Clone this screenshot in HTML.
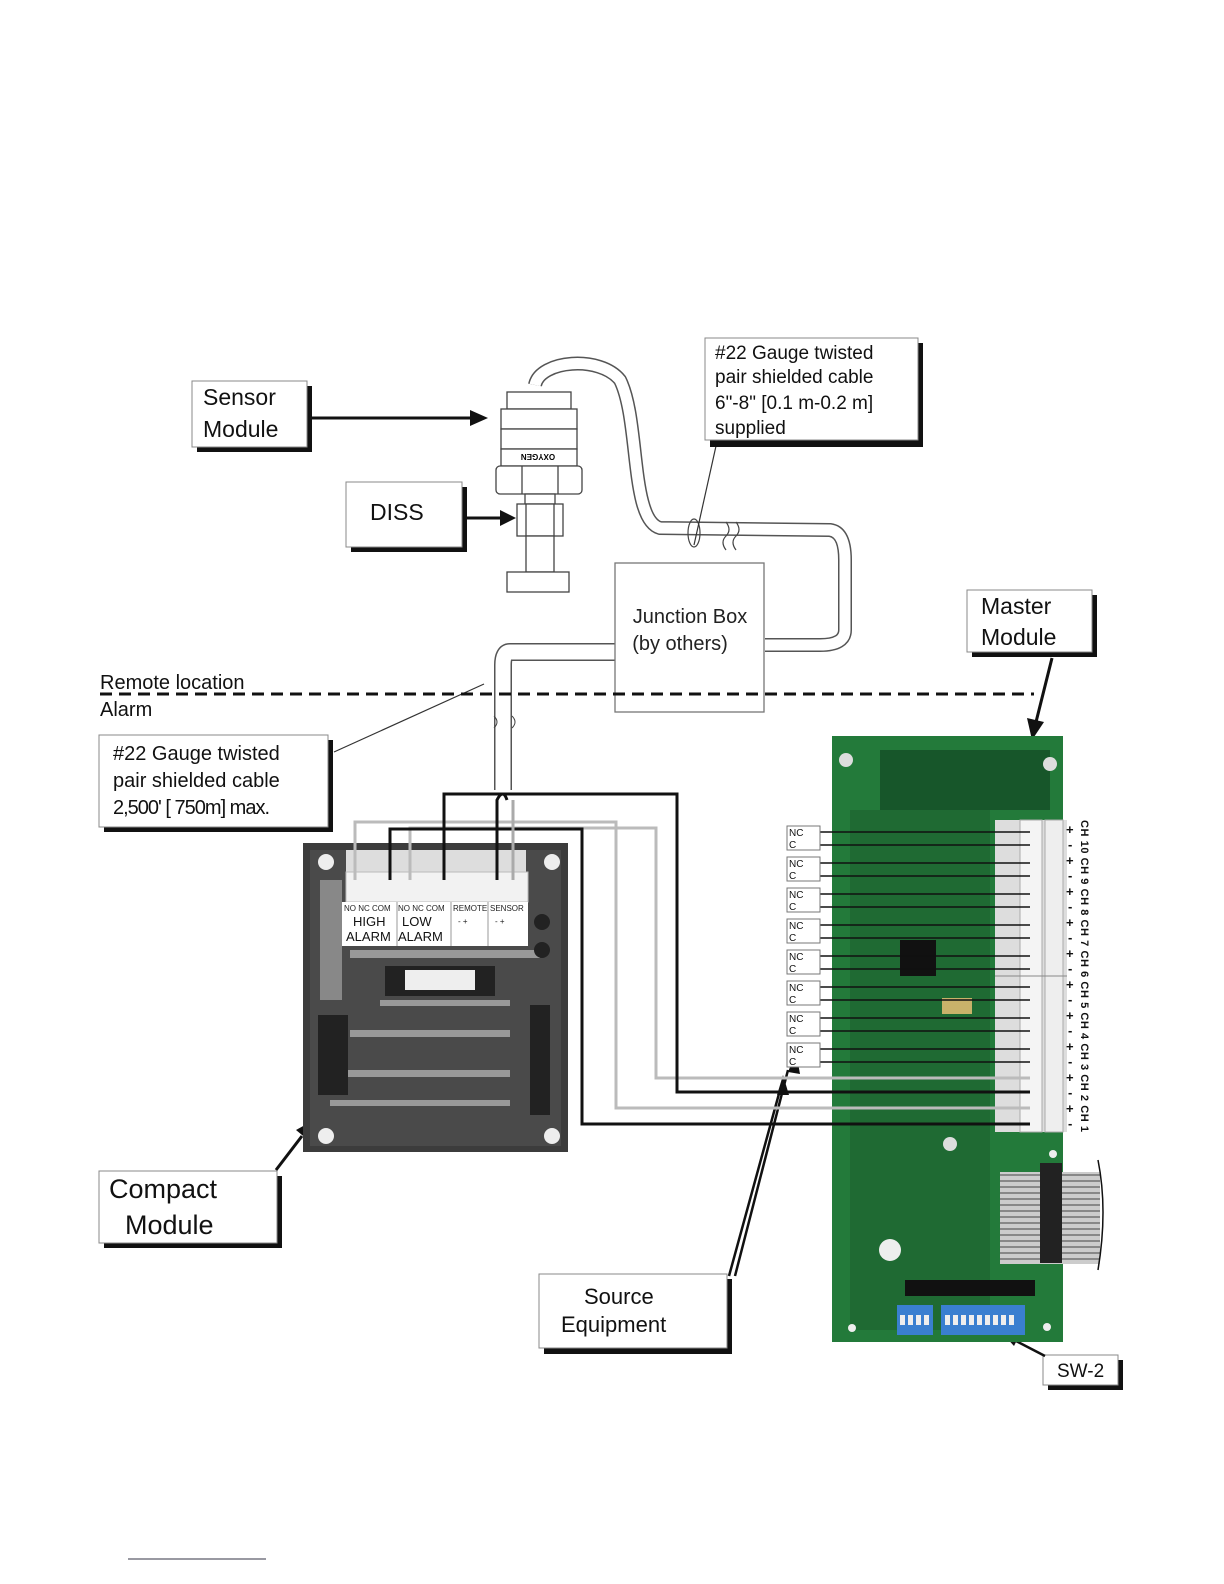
<!DOCTYPE html>
<html><head><meta charset="utf-8"><style>
body{margin:0;background:#fff}
svg{display:block}
text{font-family:"Liberation Sans","DejaVu Sans",sans-serif}
</style></head><body>
<svg width="1224" height="1584" viewBox="0 0 1224 1584" xmlns="http://www.w3.org/2000/svg">
<defs>
<pattern id="rib" width="6" height="6" patternUnits="userSpaceOnUse"><rect width="6" height="6" fill="#ccc"/><rect y="4" width="6" height="2" fill="#888"/></pattern>
</defs>
<rect width="1224" height="1584" fill="#fff"/>

<path d="M535,385 C540,360 600,355 620,380 C640,420 630,520 660,528 L830,530 Q845,532 845,560 L845,630 Q845,645 820,645 L765,645" fill="none" stroke="#555" stroke-width="14"/>
<path d="M535,385 C540,360 600,355 620,380 C640,420 630,520 660,528 L830,530 Q845,532 845,560 L845,630 Q845,645 820,645 L765,645" fill="none" stroke="#fff" stroke-width="11"/>
<path d="M726,522 q6,8 0,14 q-6,6 0,14 M736,522 q6,8 0,14 q-6,6 0,14" stroke="#444" fill="none" stroke-width="1.2"/>
<ellipse cx="694" cy="533" rx="6" ry="14" fill="none" stroke="#444" stroke-width="1.2"/>
<line x1="716" y1="446" x2="694" y2="545" stroke="#333" stroke-width="1.2"/>

<path d="M615,652 L510,652 Q503,652 503,665 L503,790" fill="none" stroke="#555" stroke-width="18"/>
<path d="M615,652 L510,652 Q503,652 503,665 L503,790" fill="none" stroke="#fff" stroke-width="15"/>
<path d="M494,716 q6,6 0,12 M512,716 q6,6 0,12" stroke="#444" fill="none"/>
<line x1="484" y1="684" x2="334" y2="752" stroke="#333" stroke-width="1.2"/>

<g stroke="#444" stroke-width="1.3" fill="#fff">
<rect x="507" y="392" width="64" height="17"/>
<rect x="501" y="409" width="76" height="20"/>
<rect x="501" y="429" width="76" height="20"/>
<rect x="501" y="449" width="76" height="17"/>
<rect x="496" y="466" width="86" height="28" rx="4"/>
<line x1="522" y1="466" x2="522" y2="494"/><line x1="558" y1="466" x2="558" y2="494"/>
<rect x="525" y="494" width="30" height="10"/>
<rect x="517" y="504" width="46" height="32"/>
<line x1="526" y1="504" x2="526" y2="536"/><line x1="554" y1="504" x2="554" y2="536"/>
<rect x="526" y="536" width="28" height="36"/>
<rect x="507" y="572" width="62" height="20"/>
</g>
<text x="538" y="460" font-size="8" font-weight="bold" text-anchor="middle" transform="rotate(180 538 457)">OXYGEN</text>

<rect x="615" y="563" width="149" height="149" fill="#fff" stroke="#777" stroke-width="1.3"/>
<text x="690" y="623" font-size="20" text-anchor="middle" fill="#222">Junction Box</text>
<text x="680" y="650" font-size="20" text-anchor="middle" fill="#222">(by others)</text>

<line x1="100" y1="694" x2="1034" y2="694" stroke="#111" stroke-width="3" stroke-dasharray="12,7"/>
<text x="100" y="689" font-size="20" fill="#111">Remote location</text>
<text x="100" y="716" font-size="20" fill="#111">Alarm</text>

<g>
<rect x="197" y="386" width="115" height="66" fill="#111"/>
<rect x="192" y="381" width="115" height="66" fill="#fff" stroke="#888"/>
<text x="203" y="405" font-size="23" fill="#111">Sensor</text>
<text x="203" y="437" font-size="23" fill="#111">Module</text>
<line x1="308" y1="418" x2="474" y2="418" stroke="#111" stroke-width="3"/>
<polygon points="488,418 470,410 470,426" fill="#111"/>

<rect x="351" y="487" width="116" height="65" fill="#111"/>
<rect x="346" y="482" width="116" height="65" fill="#fff" stroke="#888"/>
<text x="370" y="520" font-size="23" fill="#111">DISS</text>
<line x1="463" y1="518" x2="502" y2="518" stroke="#111" stroke-width="3"/>
<polygon points="516,518 500,510 500,526" fill="#111"/>

<rect x="710" y="343" width="213" height="104" fill="#111"/>
<rect x="705" y="338" width="213" height="102" fill="#fff" stroke="#888"/>
<text x="715" y="359" font-size="19" fill="#111">#22 Gauge twisted</text>
<text x="715" y="383" font-size="19" fill="#111">pair shielded cable</text>
<text x="715" y="409" font-size="19" fill="#111">6"-8" [0.1 m-0.2 m]</text>
<text x="715" y="434" font-size="19" fill="#111">supplied</text>

<rect x="972" y="595" width="125" height="62" fill="#111"/>
<rect x="967" y="590" width="125" height="62" fill="#fff" stroke="#888"/>
<text x="981" y="614" font-size="23" fill="#111">Master</text>
<text x="981" y="645" font-size="23" fill="#111">Module</text>
<line x1="1052" y1="658" x2="1036" y2="722" stroke="#111" stroke-width="3"/>
<polygon points="1032,740 1027,718 1044,722" fill="#111"/>

<rect x="104" y="740" width="229" height="92" fill="#111"/>
<rect x="99" y="735" width="229" height="92" fill="#fff" stroke="#888"/>
<text x="113" y="760" font-size="20" fill="#111">#22 Gauge twisted</text>
<text x="113" y="787" font-size="20" fill="#111">pair shielded cable</text>
<text x="113" y="814" font-size="20" fill="#111" letter-spacing="-1">2,500' [ 750m] max.</text>

<rect x="104" y="1176" width="178" height="72" fill="#111"/>
<rect x="99" y="1171" width="178" height="72" fill="#fff" stroke="#888"/>
<text x="109" y="1198" font-size="27" fill="#111">Compact</text>
<text x="125" y="1234" font-size="27" fill="#111">Module</text>
<line x1="276" y1="1170" x2="302" y2="1136" stroke="#111" stroke-width="3"/>
<polygon points="314,1120 296,1130 308,1140" fill="#111"/>

<rect x="544" y="1279" width="188" height="75" fill="#111"/>
<rect x="539" y="1274" width="188" height="74" fill="#fff" stroke="#888"/>
<text x="584" y="1304" font-size="22" fill="#111">Source</text>
<text x="561" y="1332" font-size="22" fill="#111">Equipment</text>
<path d="M729,1276 L780,1090 M735,1276 L788,1070" stroke="#111" stroke-width="2.5" fill="none"/>
<polygon points="783,1075 777,1095 789,1095" fill="#111"/>
<polygon points="796,1052 788,1072 800,1074" fill="#111"/>

<rect x="1048" y="1360" width="75" height="30" fill="#111"/>
<rect x="1043" y="1355" width="75" height="30" fill="#fff" stroke="#888"/>
<text x="1057" y="1377" font-size="19" fill="#111">SW-2</text>
<line x1="1045" y1="1356" x2="1016" y2="1341" stroke="#111" stroke-width="2.5"/>
<polygon points="1004,1335 1020,1334 1014,1346" fill="#111"/>
</g>

<rect x="303" y="843" width="265" height="309" fill="#3c3c3c"/>
<rect x="310" y="850" width="251" height="296" fill="#4a4a4a"/>
<g fill="#999">
<rect x="350" y="950" width="190" height="8"/><rect x="350" y="1030" width="160" height="7"/><rect x="340" y="1070" width="170" height="7"/>
<rect x="330" y="1100" width="180" height="6"/><rect x="380" y="1000" width="130" height="6"/>
<rect x="320" y="880" width="22" height="120" fill="#888"/>
</g>
<rect x="318" y="1015" width="30" height="80" fill="#222"/>
<rect x="530" y="1005" width="20" height="110" fill="#222"/>
<rect x="385" y="966" width="110" height="30" fill="#222"/>
<rect x="405" y="970" width="70" height="20" fill="#eee"/>
<circle cx="326" cy="862" r="8" fill="#eee"/><circle cx="552" cy="862" r="8" fill="#eee"/>
<circle cx="326" cy="1136" r="8" fill="#eee"/><circle cx="552" cy="1136" r="8" fill="#eee"/>
<circle cx="542" cy="922" r="8" fill="#222"/><circle cx="542" cy="950" r="8" fill="#222"/>
<rect x="346" y="850" width="180" height="22" fill="#ddd"/>
<rect x="346" y="872" width="182" height="30" fill="#f2f2f2" stroke="#bbb"/>
<rect x="342" y="902" width="186" height="44" fill="#fff"/>
<g stroke="#999"><line x1="397" y1="902" x2="397" y2="946"/><line x1="451" y1="902" x2="451" y2="946"/><line x1="488" y1="902" x2="488" y2="946"/></g>
<g font-size="8" fill="#222"><text x="344" y="911">NO  NC  COM</text><text x="398" y="911">NO  NC COM</text><text x="453" y="911">REMOTE</text><text x="490" y="911">SENSOR</text>
<text x="458" y="924">-   +</text><text x="495" y="924">-   +</text></g>
<g font-size="13" fill="#111"><text x="353" y="926">HIGH</text><text x="346" y="941">ALARM</text><text x="402" y="926">LOW</text><text x="398" y="941">ALARM</text></g>

<rect x="832" y="736" width="231" height="606" fill="#237a3a"/>
<rect x="880" y="750" width="170" height="60" fill="#17562a"/>
<rect x="850" y="810" width="140" height="520" fill="#1f6a33"/>
<rect x="900" y="940" width="36" height="36" fill="#111"/>
<rect x="942" y="998" width="30" height="16" fill="#c9b26a"/>
<circle cx="846" cy="760" r="7" fill="#ddd"/><circle cx="1050" cy="764" r="7" fill="#ddd"/>
<circle cx="950" cy="1144" r="7" fill="#ddd"/><circle cx="890" cy="1250" r="11" fill="#eee"/>
<circle cx="852" cy="1328" r="4" fill="#eee"/><circle cx="1053" cy="1154" r="4" fill="#eee"/><circle cx="1047" cy="1327" r="4" fill="#eee"/>
<rect x="905" y="1280" width="130" height="16" fill="#111"/>
<rect x="897" y="1305" width="36" height="30" fill="#3a7fd0"/>
<rect x="941" y="1305" width="84" height="30" fill="#3a7fd0"/>
<g fill="#eee"><rect x="900" y="1315" width="5" height="10"/><rect x="908" y="1315" width="5" height="10"/><rect x="916" y="1315" width="5" height="10"/><rect x="924" y="1315" width="5" height="10"/>
<rect x="945" y="1315" width="5" height="10"/><rect x="953" y="1315" width="5" height="10"/><rect x="961" y="1315" width="5" height="10"/><rect x="969" y="1315" width="5" height="10"/><rect x="977" y="1315" width="5" height="10"/><rect x="985" y="1315" width="5" height="10"/><rect x="993" y="1315" width="5" height="10"/><rect x="1001" y="1315" width="5" height="10"/><rect x="1009" y="1315" width="5" height="10"/></g>
<rect x="995" y="820" width="72" height="312" fill="#ddd"/>
<rect x="1020" y="820" width="22" height="312" fill="#f4f4f4" stroke="#aaa"/>
<rect x="1045" y="820" width="18" height="312" fill="#eee" stroke="#aaa"/>
<line x1="995" y1="976" x2="1067" y2="976" stroke="#888"/>
<rect x="1000" y="1172" width="100" height="92" fill="url(#rib)"/>
<rect x="1040" y="1163" width="22" height="100" fill="#222"/>
<path d="M1098,1160 q10,50 0,110" stroke="#111" fill="none" stroke-width="1.5"/>

<g font-size="10" fill="#111">
<g stroke="#111" stroke-width="1.6">
<line x1="820" y1="832" x2="1030" y2="832"/><line x1="820" y1="845" x2="1030" y2="845"/>
<line x1="820" y1="863" x2="1030" y2="863"/><line x1="820" y1="876" x2="1030" y2="876"/>
<line x1="820" y1="894" x2="1030" y2="894"/><line x1="820" y1="907" x2="1030" y2="907"/>
<line x1="820" y1="925" x2="1030" y2="925"/><line x1="820" y1="938" x2="1030" y2="938"/>
<line x1="820" y1="956" x2="1030" y2="956"/><line x1="820" y1="969" x2="1030" y2="969"/>
<line x1="820" y1="987" x2="1030" y2="987"/><line x1="820" y1="1000" x2="1030" y2="1000"/>
<line x1="820" y1="1018" x2="1030" y2="1018"/><line x1="820" y1="1031" x2="1030" y2="1031"/>
<line x1="820" y1="1049" x2="1030" y2="1049"/><line x1="820" y1="1062" x2="1030" y2="1062"/>
</g>
<g fill="#fff" stroke="#777">
<rect x="787" y="826" width="33" height="24"/><rect x="787" y="857" width="33" height="24"/><rect x="787" y="888" width="33" height="24"/><rect x="787" y="919" width="33" height="24"/>
<rect x="787" y="950" width="33" height="24"/><rect x="787" y="981" width="33" height="24"/><rect x="787" y="1012" width="33" height="24"/><rect x="787" y="1043" width="33" height="24"/>
</g>
<text x="789" y="836">NC</text><text x="789" y="848">C</text>
<text x="789" y="867">NC</text><text x="789" y="879">C</text>
<text x="789" y="898">NC</text><text x="789" y="910">C</text>
<text x="789" y="929">NC</text><text x="789" y="941">C</text>
<text x="789" y="960">NC</text><text x="789" y="972">C</text>
<text x="789" y="991">NC</text><text x="789" y="1003">C</text>
<text x="789" y="1022">NC</text><text x="789" y="1034">C</text>
<text x="789" y="1053">NC</text><text x="789" y="1065">C</text>
</g>
<g font-size="13" font-weight="bold" fill="#111">
<text x="1066" y="834">+</text><text x="1068" y="849">-</text><text x="1066" y="865">+</text><text x="1068" y="880">-</text>
<text x="1066" y="896">+</text><text x="1068" y="911">-</text><text x="1066" y="927">+</text><text x="1068" y="942">-</text>
<text x="1066" y="958">+</text><text x="1068" y="973">-</text><text x="1066" y="989">+</text><text x="1068" y="1004">-</text>
<text x="1066" y="1020">+</text><text x="1068" y="1035">-</text><text x="1066" y="1051">+</text><text x="1068" y="1066">-</text>
<text x="1066" y="1082">+</text><text x="1068" y="1097">-</text><text x="1066" y="1113">+</text><text x="1068" y="1128">-</text>
</g>
<text x="1081" y="820" font-size="11" font-weight="bold" fill="#111" transform="rotate(90 1081 820)" textLength="312">CH 10 CH 9 CH 8 CH 7 CH 6 CH 5 CH 4 CH 3 CH 2 CH 1</text>

<g fill="none" stroke-width="3">
<path d="M410,880 L410,828 L656,828 L656,1078 L1030,1078" stroke="#bbb"/>
<path d="M355,880 L355,822 L616,822 L616,1108 L1030,1108" stroke="#bbb"/>
<path d="M444,880 L444,794 L677,794 L677,1092 L1030,1092" stroke="#111"/>
<path d="M390,880 L390,829 L582,829 L582,1124 L1030,1124" stroke="#111"/>
<path d="M497,880 L497,800 Q503,788 507,800" stroke="#111"/>
<path d="M513,880 L513,800" stroke="#aaa"/>
</g>
<line x1="128" y1="1559" x2="266" y2="1559" stroke="#334" stroke-width="1"/>
</svg>
</body></html>
